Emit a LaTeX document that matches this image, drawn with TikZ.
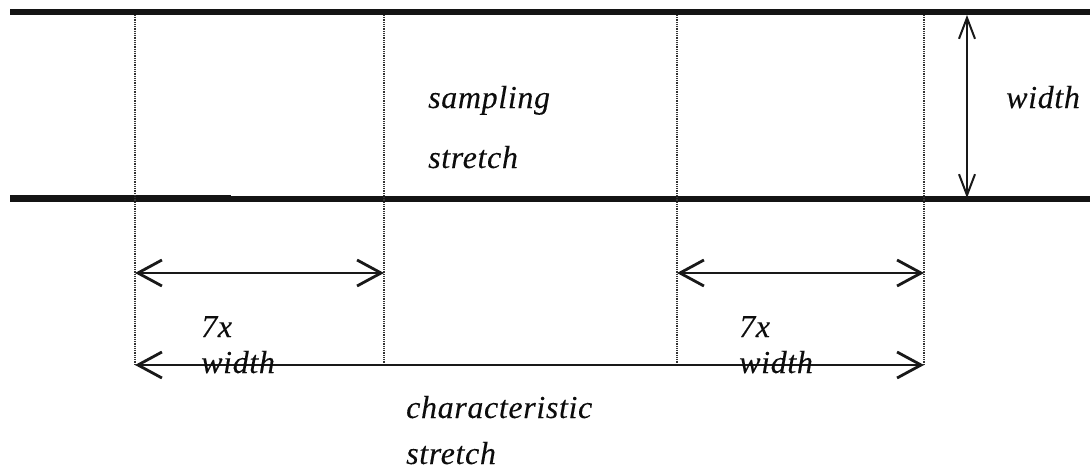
\documentclass[tikz,border=0pt]{standalone}
\usepackage{fontspec}
\setmainfont{Liberation Serif}
\newfontfamily\lblfont[LetterSpace=2, FakeBold=0.1]{Liberation Serif}
\usetikzlibrary{arrows.meta}
\begin{document}
\begin{tikzpicture}[x=1pt,y=-1pt,
  rail/.style={line width=6pt, black!92},
  guide/.style={line width=1.2pt, gray!40!black, dash pattern=on 1pt off 0.8pt},
  dim/.style={line width=2.8pt, black!90,
    {Straight Barb[length=24pt,width=26pt,line width=2.8pt]}-{Straight Barb[length=24pt,width=26pt,line width=2.8pt]}},
  vdim/.style={line width=2pt, black!90,
    {Straight Barb[length=21pt,width=16pt,line width=2pt]}-{Straight Barb[length=21pt,width=16pt,line width=2pt]}},
  lbl/.style={font=\lblfont\itshape\fontsize{32}{38}\selectfont, anchor=base west, inner sep=0pt, text=black!95}]

  % page
  \fill[white] (0,0) rectangle (1090,469);
  \useasboundingbox (0,0) rectangle (1090,469);

  % channel banks
  \coordinate (tl) at (10,12);
  \coordinate (tr) at (1090,12);
  \coordinate (bl) at (10,199);
  \coordinate (br) at (1090,199);
  \coordinate (bls) at (10,195.5);
  \coordinate (bms) at (231,195.5);
  \draw[rail] (tl) -- (tr);
  \draw[rail] (bl) -- (br);
  \draw[black!92, line width=1pt] (bls) -- (bms);

  % section boundaries
  \foreach \n/\x in {a/135, b/384, c/677, d/924}{
    \coordinate (\n top) at (\x,15);
    \coordinate (\n mid) at (\x,273);
    \coordinate (\n bot) at (\x,365);
    \draw[guide] (\n top) -- (\n bot);
  }

  % dimension arrows
  \draw[dim] (amid) -- (bmid);
  \draw[dim] (cmid) -- (dmid);
  \draw[dim] (abot) -- (dbot);
  \coordinate (wtop) at (967,15);
  \coordinate (wbot) at (967,198);
  \draw[vdim] (wtop) -- (wbot);

  % labels
  \node[lbl] (samp1) at (428,108) {sampling};
  \node[lbl] (samp2) at (428,168) {stretch};
  \node[lbl] (wid) at (1006,108) {width};
  \node[lbl] (sevL) at (201,337) {7x};
  \node[lbl] (widL) at (201,373) {width};
  \node[lbl] (sevR) at (739,337) {7x};
  \node[lbl] (widR) at (739,373) {width};
  \node[lbl] (char1) at (406,418) {characteristic};
  \node[lbl] (char2) at (406,464) {stretch};
\end{tikzpicture}
\end{document}
